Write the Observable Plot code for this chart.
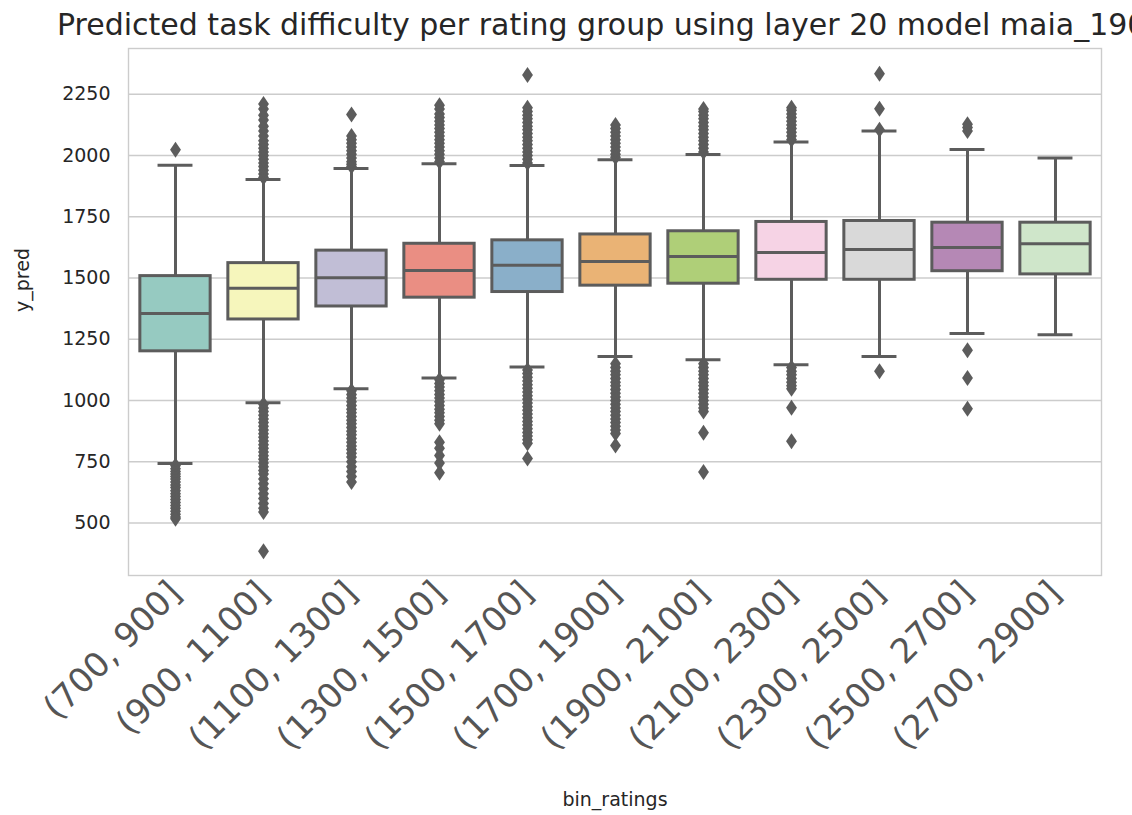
<!DOCTYPE html>
<html>
<head>
<meta charset="utf-8">
<script src="https://cdn.jsdelivr.net/npm/d3@7"></script>
<script src="https://cdn.jsdelivr.net/npm/@observablehq/plot@0.6"></script>
<style>
  html, body { margin: 0; padding: 0; background: #fff; }
  #wrap { position: relative; width: 1132px; height: 815px; overflow: hidden; background: #fff; }
  #title {
    position: relative; height: 45px; white-space: nowrap;
    font-family: "DejaVu Sans", sans-serif; font-size: 30px; line-height: 29px;
    color: #262626; padding-left: 57px; padding-top: 10px; box-sizing: border-box;
  }
  #chart svg { display: block; }
</style>
</head>
<body>
<div id="wrap">
  <div id="title">Predicted task difficulty per rating group using layer 20 model maia_1900</div>
  <div id="chart"></div>
</div>
<script>
// Rating bins (categories)
const bins = ["(700, 900]", "(900, 1100]", "(1100, 1300]", "(1300, 1500]", "(1500, 1700]",
  "(1700, 1900]", "(1900, 2100]", "(2100, 2300]", "(2300, 2500]", "(2500, 2700]", "(2700, 2900]"];

// Box statistics of y_pred per bin
const q1          = [1201, 1331, 1384, 1420, 1443, 1469, 1477, 1493, 1493, 1528, 1515];
const medians     = [1355, 1458, 1501, 1531, 1552, 1568, 1588, 1604, 1617, 1625, 1640];
const q3          = [1508, 1561, 1612, 1640, 1654, 1678, 1691, 1729, 1733, 1726, 1726];
const whiskerLow  = [743, 991, 1048, 1092, 1137, 1180, 1167, 1146, 1180, 1274, 1269];
const whiskerHigh = [1960, 1902, 1947, 1967, 1959, 1983, 2004, 2055, 2100, 2025, 1990];

// Outlying predictions per bin
const outliers700  = [2024, 735, 722, 710, 700, 690, 680, 668, 655, 645, 632, 620, 608, 596, 584, 572, 560, 548, 536, 525, 518];
const outliers900  = [1910, 1925, 1940, 1955, 1970, 1985, 2000, 2015, 2030, 2045, 2060, 2080, 2100, 2120, 2145, 2165, 2190, 2210,
  985, 970, 955, 940, 925, 910, 895, 880, 865, 850, 835, 820, 805, 790, 775, 760, 745, 730, 715, 700, 680, 660, 640, 620, 600, 580, 560, 545, 385];
const outliers1100 = [1955, 1965, 1975, 1990, 2005, 2020, 2035, 2050, 2065, 2080, 2168,
  1040, 1025, 1010, 995, 980, 965, 950, 935, 920, 905, 890, 875, 860, 845, 830, 815, 800, 785, 770, 750, 730, 710, 690, 668];
const outliers1300 = [1975, 1990, 2005, 2020, 2035, 2050, 2065, 2080, 2095, 2110, 2125, 2140, 2155, 2170, 2190, 2205,
  1085, 1070, 1055, 1040, 1025, 1010, 995, 980, 965, 950, 935, 920, 905, 830, 805, 776, 745, 705];
const outliers1500 = [1970, 1985, 2000, 2015, 2030, 2045, 2060, 2075, 2090, 2105, 2120, 2135, 2150, 2165, 2180, 2195, 2329,
  1125, 1110, 1095, 1080, 1065, 1050, 1035, 1020, 1005, 990, 975, 960, 945, 930, 915, 900, 885, 870, 855, 840, 826, 764];
const outliers1700 = [1993, 2005, 2020, 2035, 2050, 2065, 2080, 2095, 2110, 2125,
  1150, 1135, 1120, 1105, 1090, 1075, 1060, 1045, 1030, 1015, 1000, 985, 970, 955, 940, 925, 910, 895, 880, 866, 817];
const outliers1900 = [2015, 2030, 2045, 2060, 2075, 2090, 2105, 2120, 2135, 2150, 2165, 2180, 2190,
  1150, 1135, 1120, 1105, 1090, 1075, 1060, 1045, 1030, 1015, 1000, 985, 970, 955, 869, 708];
const outliers2100 = [2065, 2080, 2095, 2110, 2125, 2140, 2155, 2170, 2185, 2195,
  1135, 1120, 1105, 1090, 1075, 1060, 1048, 971, 834];
const outliers2300 = [2105, 2191, 2334, 1120];
const outliers2500 = [2100, 2115, 2128, 1205, 1092, 967];
const outliers2700 = [];

const outlierValues = [outliers700, outliers900, outliers1100, outliers1300, outliers1500,
  outliers1700, outliers1900, outliers2100, outliers2300, outliers2500, outliers2700];

// Set3 palette, desaturated the way seaborn draws box fills
const palette = ["#8dd3c7", "#ffffb3", "#bebada", "#fb8072", "#80b1d3", "#fdb462",
  "#b3de69", "#fccde5", "#d9d9d9", "#bc80bd", "#ccebc5"];
const yTicks = [500, 750, 1000, 1250, 1500, 1750, 2000, 2250];

const fills = palette.map(c => { const h = d3.hsl(c); h.s *= 0.75; return h.formatHex(); });
const gray = "#5c5c5c";

const boxes = bins.map((bin, i) => ({
  bin, q1: q1[i], median: medians[i], q3: q3[i], lo: whiskerLow[i], hi: whiskerHigh[i]
}));
const points = bins.flatMap((bin, i) => outlierValues[i].map(v => ({bin, v})));

// Thin diamond marker for fliers
const thinDiamond = {
  draw(context, size) {
    const h = Math.sqrt(size / Math.PI);
    const w = h * 0.68;
    context.moveTo(0, -h);
    context.lineTo(w, 0);
    context.lineTo(0, h);
    context.lineTo(-w, 0);
    context.closePath();
  }
};

const width = 1132, height = 770;
const marginLeft = 128, marginRight = 31, marginTop = 3, marginBottom = 240;
const band = (width - marginLeft - marginRight) / bins.length;
const boxInset = band * 0.1;
const capInset = band * 0.3;

const chart = Plot.plot({
  width, height, marginLeft, marginRight, marginTop, marginBottom,
  style: {fontFamily: "DejaVu Sans, sans-serif", background: "white", color: "#262626"},
  x: {domain: bins, padding: 0},
  y: {domain: [286, 2437]},
  color: {type: "ordinal", domain: bins, range: fills},
  marks: [
    Plot.gridY(yTicks, {stroke: "#cccccc", strokeOpacity: 1, strokeWidth: 1.4}),
    Plot.frame({stroke: "#cccccc", strokeWidth: 1.4}),
    Plot.axisY(yTicks, {tickSize: 0, tickPadding: 18, fontSize: 19, tickFormat: d => String(d), label: null, fill: "#262626"}),
    Plot.axisX({tickSize: 0, tickPadding: 12, tickRotate: -45, fontSize: 34, label: null, fill: "#555555"}),
    Plot.ruleX(boxes, {x: "bin", y1: "lo", y2: "hi", stroke: gray, strokeWidth: 3}),
    Plot.tickY(boxes, {x: "bin", y: "hi", stroke: gray, strokeWidth: 3, insetLeft: capInset, insetRight: capInset}),
    Plot.tickY(boxes, {x: "bin", y: "lo", stroke: gray, strokeWidth: 3, insetLeft: capInset, insetRight: capInset}),
    Plot.barY(boxes, {x: "bin", y1: "q1", y2: "q3", fill: "bin", stroke: gray, strokeWidth: 3, insetLeft: boxInset, insetRight: boxInset}),
    Plot.tickY(boxes, {x: "bin", y: "median", stroke: gray, strokeWidth: 3, insetLeft: boxInset, insetRight: boxInset}),
    Plot.dot(points, {x: "bin", y: "v", symbol: thinDiamond, r: 8, fill: gray, stroke: "none"}),
    Plot.text(["y_pred"], {text: d => d, frameAnchor: "left", dx: -106, rotate: -90, fontSize: 19, fill: "#262626"}),
    Plot.text(["bin_ratings"], {text: d => d, frameAnchor: "bottom", dy: 230, fontSize: 19, fill: "#262626"})
  ]
});
document.getElementById("chart").appendChild(chart);
</script>
</body>
</html>
